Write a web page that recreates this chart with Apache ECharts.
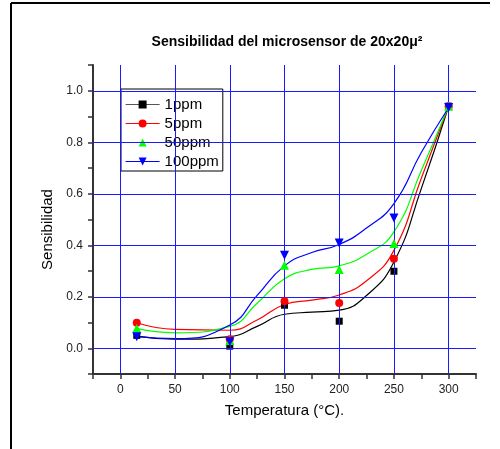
<!DOCTYPE html>
<html>
<head>
<meta charset="utf-8">
<script src="https://cdn.jsdelivr.net/npm/echarts@6/dist/echarts.min.js"></script>
<style>
  html, body { margin: 0; padding: 0; background: #fff; }
  #chart { width: 500px; height: 449px; }
</style>
</head>
<body>
<div id="chart"></div>
<script>
// Measured sensitivity of the 20x20 micro-sensor at each temperature (°C)
const temps = [15, 100, 150, 200, 250, 300];
const s1ppm   = [0.050, 0.008, 0.167, 0.105, 0.299, 0.940];
const s5ppm   = [0.099, 0.035, 0.183, 0.176, 0.348, 0.940];
const s50ppm  = [0.077, 0.030, 0.322, 0.306, 0.407, 0.940];
const s100ppm = [0.045, 0.025, 0.361, 0.409, 0.506, 0.935];

// Smoothed trend curves for each concentration
const fitTemps  = [15, 50, 100, 125, 150, 175, 200, 225, 250, 275, 300];
const fit1ppm   = [0.047, 0.035, 0.045, 0.085, 0.132, 0.140, 0.148, 0.205, 0.335, 0.620, 0.940];
const fit5ppm   = [0.099, 0.073, 0.070, 0.110, 0.170, 0.187, 0.207, 0.262, 0.380, 0.660, 0.940];
const fit50ppm  = [0.077, 0.060, 0.085, 0.175, 0.270, 0.306, 0.320, 0.365, 0.452, 0.690, 0.940];
const fit100ppm = [0.045, 0.037, 0.090, 0.205, 0.320, 0.372, 0.403, 0.467, 0.562, 0.760, 0.935];

const seriesNames = ['1ppm', '5ppm', '50ppm', '100ppm'];
const xTickLabels = [0, 50, 100, 150, 200, 250, 300];
const yTickLabels = [0.0, 0.2, 0.4, 0.6, 0.8, 1.0];

const FONT = "'Liberation Sans', Arial, sans-serif";
const colors = ['#000000', '#ff0000', '#00ff00', '#0000ff'];
const symbols = ['rect', 'circle', 'triangle', 'path://M0,0L10,0L5,9Z'];
const symbolSizes = [7, 8, 9, 9];
const fits = [fit1ppm, fit5ppm, fit50ppm, fit100ppm];
const points = [s1ppm, s5ppm, s50ppm, s100ppm];

const pair = (xs, ys) => xs.map((x, i) => [x, ys[i]]);

const curveSeries = seriesNames.map((name, i) => ({
  name: name,
  type: 'line',
  data: pair(fitTemps, fits[i]),
  smooth: 0.5,
  showSymbol: false,
  symbol: symbols[i],
  itemStyle: { color: colors[i] },
  lineStyle: { color: colors[i], width: 1.2 },
  emphasis: { disabled: true },
  z: 3
}));

const pointSeries = seriesNames.map((name, i) => ({
  name: name,
  type: 'scatter',
  data: pair(temps, points[i]),
  symbol: symbols[i],
  symbolSize: symbolSizes[i],
  itemStyle: { color: colors[i], opacity: 1 },
  emphasis: { disabled: true },
  z: 4 + i
}));

// Blue grid drawn at the labelled tick values only
const gridSeries = {
  name: 'grid',
  type: 'line',
  data: [],
  silent: true,
  z: 1,
  markLine: {
    silent: true,
    symbol: ['none', 'none'],
    label: { show: false },
    emphasis: { disabled: true },
    animation: false,
    lineStyle: { color: '#1a1aff', width: 1, type: 'solid' },
    data: xTickLabels.map(v => ({ xAxis: v })).concat(yTickLabels.map(v => ({ yAxis: v })))
  }
};

const axisCommon = {
  type: 'value',
  axisLine: { show: true, onZero: false, lineStyle: { color: '#333', width: 2 } },
  axisTick: { show: true, inside: false, length: 5, lineStyle: { color: '#333', width: 1.5 } },
  splitLine: { show: false },
  axisLabel: { color: '#222', fontSize: 12, fontFamily: FONT }
};

const chart = echarts.init(document.getElementById('chart'), null, { renderer: 'canvas' });
chart.setOption({
  animation: false,
  backgroundColor: '#ffffff',
  title: {
    text: 'Sensibilidad del microsensor de 20x20μ²',
    left: 282,
    top: 30,
    textAlign: 'center',
    textStyle: { fontFamily: FONT, fontSize: 14, fontWeight: 'bold', color: '#000' }
  },
  legend: {
    orient: 'vertical',
    left: 121,
    top: 89,
    itemWidth: 34,
    itemHeight: 10,
    itemGap: 4,
    padding: [8, 4, 2, 4],
    borderColor: '#000',
    borderWidth: 1,
    backgroundColor: '#fff',
    selectedMode: false,
    textStyle: { fontFamily: FONT, fontSize: 15, color: '#000' },
    data: seriesNames.map((n, i) => ({
      name: n,
      lineStyle: { color: i === 0 ? '#555' : colors[i], width: 1.2 }
    }))
  },
  grid: { left: 93, right: 24, top: 65, bottom: 75 },
  xAxis: Object.assign({}, axisCommon, {
    min: -25, max: 325, interval: 25,
    name: 'Temperatura (°C).',
    nameLocation: 'middle',
    nameGap: 29,
    nameTextStyle: { fontFamily: FONT, fontSize: 15, color: '#000' },
    axisLabel: Object.assign({}, axisCommon.axisLabel, {
      margin: 10,
      formatter: v => (xTickLabels.indexOf(Math.round(v)) >= 0 && Math.abs(v - Math.round(v)) < 1e-6) ? String(Math.round(v)) : ''
    })
  }),
  yAxis: Object.assign({}, axisCommon, {
    min: -0.1, max: 1.1, interval: 0.1,
    name: 'Sensibilidad',
    nameLocation: 'middle',
    nameGap: 35,
    nameTextStyle: { fontFamily: FONT, fontSize: 15, color: '#000', padding: [0, 20, 0, 0] },
    axisLabel: Object.assign({}, axisCommon.axisLabel, {
      margin: 10,
      formatter: v => {
        const k = Math.round(v * 10);
        return (k % 2 === 0 && k >= 0 && k <= 10) ? (k / 10).toFixed(1) : '';
      }
    })
  }),
  graphic: [
    { type: 'line', shape: { x1: 11, y1: 3, x2: 490, y2: 3 }, style: { stroke: '#000', lineWidth: 2 }, silent: true },
    { type: 'line', shape: { x1: 11, y1: 3, x2: 11, y2: 449 }, style: { stroke: '#000', lineWidth: 2 }, silent: true }
  ],
  series: curveSeries.concat(pointSeries, [gridSeries])
});
</script>
</body>
</html>
